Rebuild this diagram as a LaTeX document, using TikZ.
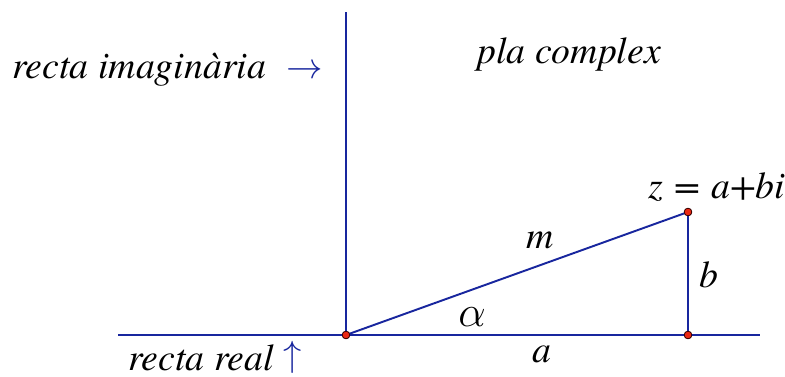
\documentclass[tikz,border=0pt]{standalone}
\usepackage{fontspec}
\setmainfont{TeX Gyre Termes}
\usepackage{xcolor}
\usetikzlibrary{positioning}

\definecolor{axisblue}{RGB}{24,38,158}
\definecolor{ptred}{RGB}{235,40,20}

\begin{document}
\begin{tikzpicture}[x=0.02cm, y=-0.02cm,
line/.style={draw=axisblue, line width=1.1pt},
pt/.style={circle, draw=black!80!red, fill=ptred, line width=0.4pt,
           inner sep=0pt, minimum size=4.3pt},
lbl/.style={anchor=base west, inner sep=0pt,
            font=\fontsize{21.5}{26}\selectfont\itshape},
arr/.style={lbl, text=axisblue}
]
\useasboundingbox (0,0) rectangle (785,376);

% axes
\coordinate (xl) at (118,335);
\coordinate (xr) at (760,335);
\coordinate (yt) at (346,12);
\node[pt] (orig) at (346,335) {};
\node[pt] (zpt) at (688,212) {};
\node[pt] (foot) at (688,335) {};

\draw[line] (xl) -- (orig.center) -- (xr);
\draw[line] (yt) -- (orig.center);
\draw[line] (orig.center) -- (zpt.center);
\draw[line] (zpt.center) -- (foot.center);

% dots on top
\node[pt] at (orig) {};
\node[pt] at (zpt) {};
\node[pt] at (foot) {};

% labels
\node[lbl] (imag) at (12,78) {recta imaginària};
\node[arr] (imagarr) at (286,78) {$\rightarrow$};
\node[lbl] (real) at (128,370) {recta real};
\node[arr] (realarr) at (283,366) {$\uparrow$};
\node[lbl] (plane) at (477,63) {pla complex};
\node[lbl] (zlab) at (648,198) {z\hspace{0.3em}=\hspace{0.3em}a+bi};
\node[lbl] (mlab) at (526,248) {m};
\node[lbl] (blab) at (699,287) {b};
\node[lbl] (alab) at (458,326) {\fontsize{25}{30}\selectfont$\alpha$};
\node[lbl] (alab2) at (532,362) {a};
\end{tikzpicture}
\end{document}
